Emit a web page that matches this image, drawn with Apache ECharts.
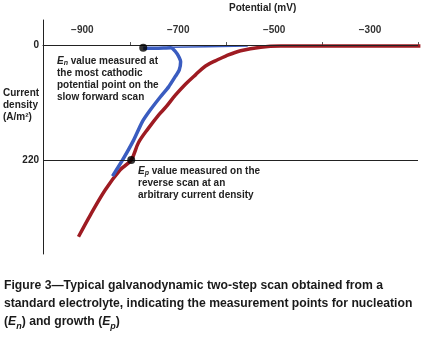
<!DOCTYPE html>
<html>
<head>
<meta charset="utf-8">
<script src="https://cdn.jsdelivr.net/npm/echarts@6/dist/echarts.min.js"></script>
<style>
  html, body { margin: 0; padding: 0; background: #fff; }
  #chart { width: 428px; height: 347px; }
</style>
</head>
<body>
<div id="chart"></div>
<script>
// potential (mV) ticks on the top axis
const xLabels = [-900, -700, -500, -300];
const xTicks = [-800, -600, -400, -200];
const yLabels = [0, 220];

// slow forward scan (blue)
const fwdPotential = [-773, -747, -716, -702, -695, -698, -706, -720, -737, -758, -775, -793, -816, -837];
const fwdCurrent = [6, 6, 5, 17, 32, 48, 60, 80, 99, 124, 147, 182, 220, 251];
// thin blue tail along zero current
const tailPotential = [-716, -640, -555];
const tailCurrent = [4, 3, 2];

// reverse scan (red)
const revPotential = [-908, -883, -852, -821, -798, -783, -762, -741, -726, -706, -685, -664, -643, -620, -601, -570, -528, -486, -195];
const revCurrent = [367, 325, 277, 239, 220, 187, 159, 134, 119, 96, 75, 57, 40, 29, 21, 11, 4, 2, 2];

// measurement points En and Ep
const pointPotential = [-773, -798];
const pointCurrent = [5, 220];

const zip = (a, b) => a.map((v, i) => [v, b[i]]);
const FONT = 'Liberation Sans, Arial, sans-serif';

const chart = echarts.init(document.getElementById('chart'));

chart.setOption({
  animation: false,
  grid: { left: 43, top: 20, right: 10, bottom: 93 },
  xAxis: {
    type: 'value',
    position: 'top',
    min: -982,
    max: -200,
    axisLine: { show: true, lineStyle: { color: '#222', width: 1 } },
    axisTick: { show: true, length: 3, customValues: xTicks, lineStyle: { color: '#555' } },
    axisLabel: {
      inside: true,
      margin: 5,
      customValues: xLabels,
      color: '#333',
      fontFamily: FONT,
      fontWeight: 'bold',
      fontSize: 10,
      formatter: v => String(v).replace('-', '\u2212')
    },
    splitLine: { show: false }
  },
  yAxis: {
    type: 'value',
    inverse: true,
    min: -48,
    max: 400,
    axisLine: { show: true, onZero: false, lineStyle: { color: '#222', width: 1 } },
    axisTick: { show: false },
    axisLabel: {
      customValues: yLabels,
      margin: 4,
      color: '#222',
      fontFamily: FONT,
      fontWeight: 'bold',
      fontSize: 10
    },
    splitLine: { show: false }
  },
  series: [
    {
      type: 'line',
      data: zip(revPotential, revCurrent),
      symbol: 'none',
      smooth: 0.35,
      lineStyle: { color: '#9e1b22', width: 3.5 },
      markLine: {
        silent: true,
        symbol: 'none',
        label: { show: false },
        lineStyle: { color: '#222', width: 1.2, type: 'solid' },
        data: [{ yAxis: 0 }, { yAxis: 220 }]
      },
      z: 2
    },
    {
      type: 'line',
      data: zip(tailPotential, tailCurrent),
      symbol: 'none',
      lineStyle: { color: '#3a5cc0', width: 1.5 },
      z: 3
    },
    {
      type: 'line',
      data: zip(fwdPotential, fwdCurrent),
      symbol: 'none',
      smooth: 0.2,
      lineStyle: { color: '#3a5cc0', width: 3.5 },
      z: 3
    },
    {
      type: 'scatter',
      data: zip(pointPotential, pointCurrent),
      symbolSize: 8,
      itemStyle: { color: '#000' },
      z: 5
    }
  ],
  graphic: [
    {
      type: 'text', left: 229, top: 3,
      style: { text: 'Potential (mV)', font: 'bold 10px ' + FONT, fill: '#222', align: 'center' }
    },
    {
      type: 'text', left: 3, top: 87,
      style: { text: 'Current\ndensity\n(A/m\u00b2)', font: 'bold 10px ' + FONT, fill: '#222', lineHeight: 12 }
    },
    {
      type: 'text', left: 57, top: 55,
      style: {
        text: '{i|E}{s|n} value measured at\nthe most cathodic\npotential point on the\nslow forward scan',
        font: 'bold 10px ' + FONT, fill: '#222', lineHeight: 12,
        rich: {
          i: { font: 'italic bold 10px ' + FONT, fill: '#222', lineHeight: 12 },
          s: { font: 'italic bold 7px ' + FONT, fill: '#222', verticalAlign: 'bottom', lineHeight: 12 }
        }
      }
    },
    {
      type: 'text', left: 138, top: 165,
      style: {
        text: '{i|E}{s|p} value measured on the\nreverse scan at an\narbitrary current density',
        font: 'bold 10px ' + FONT, fill: '#222', lineHeight: 12,
        rich: {
          i: { font: 'italic bold 10px ' + FONT, fill: '#222', lineHeight: 12 },
          s: { font: 'italic bold 7px ' + FONT, fill: '#222', verticalAlign: 'bottom', lineHeight: 12 }
        }
      }
    },
    {
      type: 'text', left: 4, top: 277,
      style: {
        text: 'Figure 3\u2014Typical galvanodynamic two-step scan obtained from a\nstandard electrolyte, indicating the measurement points for nucleation\n({i|E}{s|n}) and growth ({i|E}{s|p})',
        font: 'bold 12.2px ' + FONT, fill: '#1a1a1a', lineHeight: 18,
        rich: {
          i: { font: 'italic bold 12.2px ' + FONT, fill: '#1a1a1a', lineHeight: 18 },
          s: { font: 'italic bold 9px ' + FONT, fill: '#1a1a1a', lineHeight: 18, verticalAlign: 'bottom' }
        }
      }
    }
  ]
});
</script>
</body>
</html>
